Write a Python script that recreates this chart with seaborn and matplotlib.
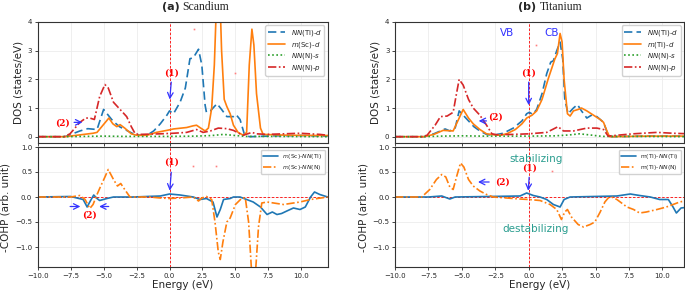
import matplotlib
matplotlib.use("Agg")
import matplotlib.pyplot as plt
import seaborn as sns
import numpy as np

# ---------------- data ----------------
# (a) Scandium, DOS
sc_ti_d_e = [-10, -8, -7.8, -6.8, -6.2, -5.5, -5.0, -4.3, -3.8, -2.75, -2.2, -1.7, -1.2, -0.7, -0.2, 0.0,
             0.3, 0.8, 1.2, 1.55, 1.8, 2.2, 2.45, 2.7, 2.8, 3.1, 3.6, 3.95, 4.35, 4.85, 5.05, 5.35, 5.7,
             6.1, 8, 10, 12]
sc_ti_d = [0, 0, 0.02, 0.2, 0.28, 0.25, 0.95, 0.55, 0.35, 0.1, 0.05, 0.05, 0.2, 0.45, 0.75, 0.9,
           0.8, 1.2, 1.7, 2.72, 2.75, 3.05, 2.5, 1.1, 0.85, 0.9, 1.15, 0.95, 0.7, 0.7, 0.77, 0.6, 0.05,
           0.0, 0.03, 0.04, 0.02]

sc_sc_d_e = [-10, -8, -7.55, -6.5, -5.8, -5.5, -4.6, -4.3, -4.0, -3.75, -3.4, -2.9, -2.5, -1.7, -1.0,
             -0.2, 0.3, 1.3, 1.8, 2.05, 2.3, 2.7, 2.95, 3.2, 3.4, 3.55, 3.7, 3.85, 3.95, 4.15, 4.35, 4.6,
             4.85, 5.2, 5.6, 5.85, 6.05, 6.25, 6.4, 6.6, 6.9, 7.1, 9, 12]
sc_sc_d = [0, 0, 0.02, 0.08, 0.12, 0.15, 0.65, 0.45, 0.35, 0.42, 0.3, 0.1, 0.05, 0.05, 0.15,
           0.22, 0.27, 0.32, 0.38, 0.4, 0.32, 0.2, 0.3, 1.0, 2.5, 4.5, 6.5, 4.5, 3.0, 1.3, 1.05, 0.8,
           0.4, 0.15, 0.05, 0.15, 2.5, 3.75, 3.2, 1.5, 0.3, 0.08, 0.05, 0.04]

sc_n_s_e = [-10, -8, -6.5, -5.0, -3.5, -2.0, 0.0, 2.0, 3.2, 4.1, 5.0, 5.8, 8, 12]
sc_n_s = [0, 0, 0.01, 0.02, 0.01, 0.01, 0.01, 0.02, 0.04, 0.08, 0.04, 0.01, 0.01, 0.0]

sc_n_p_e = [-10, -8, -7.55, -6.8, -6.35, -6.05, -5.7, -5.3, -4.9, -4.65, -4.25, -3.75, -3.25, -2.9,
            -2.6, -2.25, -0.7, 0.3, 1.3, 2.05, 2.55, 3.1, 3.7, 4.35, 4.85, 5.35, 5.6, 6.25, 6.6, 7.4,
            9.9, 11.4, 12]
sc_n_p = [0, 0, 0.1, 0.5, 0.65, 0.65, 0.6, 1.4, 1.82, 1.7, 1.2, 0.95, 0.7, 0.35,
          0.1, 0.08, 0.1, 0.12, 0.15, 0.25, 0.15, 0.2, 0.3, 0.28, 0.22, 0.1, 0.05, 0.15, 0.1, 0.08,
          0.12, 0.08, 0.05]

# (a) Scandium, COHP
sc_cohp_ti_e = [-10, -7.5, -6.55, -6.25, -6.05, -5.75, -5.5, -5.3, -4.75, -4.25, -2.75, -0.7, 0.0, 0.8,
                1.8, 2.3, 2.8, 3.3, 3.6, 3.85, 4.1, 4.6, 4.85, 5.35, 5.85, 6.35, 6.9, 7.4, 7.8, 8.15,
                8.5, 8.9, 9.4, 9.9, 10.3, 10.7, 11.0, 11.4, 12]
sc_cohp_ti = [0, 0.01, -0.05, -0.2, -0.1, 0.04, -0.03, -0.07, -0.03, 0.0, 0.0, 0.02, 0.06, 0.04,
              0.0, -0.05, -0.03, -0.1, -0.4, -0.25, -0.05, -0.03, 0.0, 0.0, -0.05, -0.1, -0.2, -0.35,
              -0.3, -0.35, -0.33, -0.28, -0.22, -0.25, -0.2, 0.0, 0.1, 0.05, 0.0]

sc_cohp_n_e = [-10, -7.5, -6.8, -6.4, -6.05, -5.8, -5.5, -5.25, -4.9, -4.65, -4.25, -3.95, -3.7, -3.4,
               -3.0, -1.5, -0.7, 0.0, 0.8, 1.8, 2.2, 2.45, 2.8, 3.2, 3.45, 3.7, 3.85, 4.05, 4.35, 4.6,
               5.0, 5.5, 5.75, 6.0, 6.25, 6.5, 6.75, 7.0, 7.4, 8.65, 9.9, 10.7, 12]
sc_cohp_n = [0, 0, 0.03, -0.05, -0.23, -0.15, 0.05, 0.2, 0.4, 0.55, 0.35, 0.22, 0.27, 0.15,
             0.0, 0.0, -0.02, -0.03, -0.02, 0.0, -0.08, -0.02, 0.01, -0.05, -0.5, -1.1, -1.25, -0.9,
             -0.5, -0.42, -0.15, -0.02, -0.02, -0.5, -1.6, -1.6, -0.6, -0.12, -0.1, -0.15, -0.1,
             -0.05, 0.0]

# (b) Titanium, DOS
ti_ti_d_e = [-10, -7.8, -7.1, -6.6, -6.25, -5.9, -5.5, -5.2, -4.9, -4.5, -4.1, -3.65, -3.15, -2.65,
             -1.9, -1.15, -0.5, -0.15, 0.05, 0.3, 0.6, 1.0, 1.35, 1.65, 1.85, 2.1, 2.35, 2.55, 2.7,
             2.95, 3.35, 3.65, 3.95, 4.35, 4.7, 5.1, 5.6, 5.95, 6.2, 9, 12]
ti_ti_d = [0, 0, 0.1, 0.2, 0.27, 0.2, 0.3, 0.9, 0.75, 0.55, 0.35, 0.2, 0.08, 0.05,
           0.12, 0.3, 0.55, 0.8, 0.85, 0.78, 0.95, 1.5, 2.2, 2.6, 2.65, 3.0, 3.3, 2.7, 1.3,
           0.8, 1.0, 1.12, 0.9, 0.65, 0.75, 0.7, 0.5, 0.05, 0.0, 0.02, 0.02]

ti_ti_md_e = [-10, -7.8, -7.1, -6.4, -5.65, -5.25, -4.9, -4.5, -4.15, -3.65, -3.15, -2.65, -2.15,
              -1.65, -1.0, -0.5, -0.15, 0.25, 0.6, 1.0, 1.45, 1.95, 2.15, 2.35, 2.5, 2.65, 2.9, 3.1,
              3.35, 3.7, 3.95, 4.35, 4.85, 5.35, 5.6, 5.85, 6.05, 9, 12]
ti_ti_md = [0, 0, 0.08, 0.22, 0.2, 0.6, 0.95, 0.65, 0.45, 0.25, 0.1, 0.07, 0.05,
            0.1, 0.25, 0.45, 0.65, 0.75, 0.9, 1.3, 2.0, 2.7, 2.9, 3.6, 3.3, 2.0, 0.8, 0.72,
            0.9, 0.95, 1.0, 0.9, 0.75, 0.6, 0.5, 0.2, 0.0, 0.02, 0.02]

ti_n_s_e = [-10, -8, -6.5, -5.0, -3.5, -2.0, 0.0, 2.0, 3.0, 3.8, 4.6, 5.5, 8, 12]
ti_n_s = [0, 0, 0.02, 0.03, 0.02, 0.02, 0.02, 0.03, 0.06, 0.1, 0.06, 0.01, 0.01, 0.0]

ti_n_p_e = [-10, -8, -7.6, -7.0, -6.6, -6.1, -5.65, -5.4, -5.2, -4.9, -4.5, -4.15, -3.65, -3.15,
            -2.75, -2.4, -1.15, 0.0, 1.35, 2.2, 2.6, 3.35, 4.35, 5.1, 5.6, 5.95, 6.6, 7.8, 9.6,
            10.8, 12]
ti_n_p = [0, 0, 0.05, 0.4, 0.7, 0.72, 0.85, 1.5, 2.0, 1.8, 1.3, 1.0, 0.75, 0.4,
          0.1, 0.07, 0.08, 0.1, 0.15, 0.35, 0.2, 0.2, 0.3, 0.3, 0.25, 0.02, 0.05, 0.1, 0.15,
          0.12, 0.1]

# (b) Titanium, COHP
ti_cohp_ti_e = [-10, -7.5, -6.5, -5.9, -5.5, -3.0, -0.65, -0.15, 0.35, 0.85, 1.35, 1.85, 2.35, 2.65,
                3.1, 4.85, 6.6, 7.6, 8.3, 9.1, 9.8, 10.45, 10.8, 11.05, 11.4, 12]
ti_cohp_ti = [0, 0.0, 0.02, -0.04, 0.0, 0.01, 0.02, 0.08, 0.03, 0.0, -0.05, -0.15, -0.2, -0.05,
              0.0, 0.01, 0.02, 0.06, 0.03, 0.0, -0.05, -0.05, -0.2, -0.32, -0.22, -0.2]

ti_cohp_n_e = [-10, -8.0, -7.4, -6.9, -6.5, -6.2, -5.9, -5.65, -5.4, -5.1, -4.85, -4.5, -4.15, -3.65,
               -3.15, -2.65, -1.65, -0.65, 0.0, 0.85, 1.6, 2.1, 2.45, 2.7, 2.9, 3.2, 3.7, 4.1, 4.6,
               4.95, 5.35, 5.7, 5.95, 6.2, 6.6, 7.35, 7.85, 8.3, 8.8, 9.6, 10.3, 10.8, 11.3, 12]
ti_cohp_n = [0, 0, 0.15, 0.35, 0.45, 0.4, 0.2, 0.15, 0.4, 0.68, 0.6, 0.35, 0.22, 0.12,
             0.05, 0.0, -0.02, -0.04, -0.05, -0.07, -0.15, -0.25, -0.45, -0.3, -0.25, -0.4, -0.55,
             -0.6, -0.55, -0.5, -0.3, -0.1, -0.02, 0.0, -0.05, -0.2, -0.25, -0.32, -0.3, -0.25,
             -0.2, -0.15, -0.1, -0.06]

# labels
dos_labels_sc = [r"$\it{NN}$(Ti)-$\it{d}$", r"$\it{m}$(Sc)-$\it{d}$",
                 r"$\it{NN}$(N)-$\it{s}$", r"$\it{NN}$(N)-$\it{p}$"]
dos_labels_ti = [r"$\it{NN}$(Ti)-$\it{d}$", r"$\it{m}$(Ti)-$\it{d}$",
                 r"$\it{NN}$(N)-$\it{s}$", r"$\it{NN}$(N)-$\it{p}$"]
cohp_labels_sc = [r"$\it{m}$(Sc)-$\it{NN}$(Ti)", r"$\it{m}$(Sc)-$\it{NN}$(N)"]
cohp_labels_ti = [r"m(Ti)-$\it{NN}$(Ti)", r"m(Ti)-$\it{NN}$(N)"]

# stray red specks seen in the figure
sc_dos_dots = ([1.86, 5.0], [3.75, 2.22])
sc_cohp_dots = ([1.8, 3.5], [0.63, 0.63])
ti_dos_dots = ([0.52], [3.2])
ti_cohp_dots = ([1.72], [0.52])

# ---------------- style ----------------
sns.set_style("ticks")
plt.rcParams["font.family"] = ["DejaVu Sans"]
plt.rcParams["mathtext.fontset"] = "dejavusans"

C_BLUE, C_ORANGE, C_GREEN, C_RED = "#1f77b4", "#ff7f0e", "#2ca02c", "#d62728"
TEAL = "#2a9d8f"
ARROW = dict(arrowstyle="->", color="#3333ff", lw=0.9)

fig = plt.figure(figsize=(6.85, 2.94), dpi=100)
W, H = 685.0, 294.0


def ax_at(x0, x1, y0, y1):
    return fig.add_axes([x0 / W, 1 - y1 / H, (x1 - x0) / W, (y1 - y0) / H])


def style(ax, xmax):
    ax.set_xlim(-10, xmax)
    ax.grid(True, color="#ececec", lw=0.6)
    ax.set_axisbelow(True)
    ax.tick_params(labelsize=5, length=2.5, width=0.6, pad=1.5)
    for s in ax.spines.values():
        s.set_linewidth(0.8)
        s.set_color("#333333")
    ax.axvline(0, color="red", lw=0.6, ls=(0, (3, 2)), zorder=1)


def line(ax, e, v, color, ls, label):
    sns.lineplot(x=e, y=v, ax=ax, color=color, linestyle=ls, lw=1.2,
                 label=label, estimator=None, sort=False)


def num(ax, txt, x, y):
    ax.text(x, y, txt, color="red", fontsize=6.5, ha="center", va="center",
            fontweight="bold", family="DejaVu Serif")


def panel(x0, x1, xmax, title_a, title_b, dos, dos_lab, cohp, cohp_lab, dots_d, dots_c):
    top = ax_at(x0, x1, 22, 143)
    bot = ax_at(x0, x1, 147, 267)
    style(top, xmax)
    style(bot, xmax)
    cols = [C_BLUE, C_ORANGE, C_GREEN, C_RED]
    lss = [(0, (5, 2.5)), "-", (0, (1, 1.5)), (0, (5, 1.5, 1, 1.5))]
    for (e, v), c, ls, lab in zip(dos, cols, lss, dos_lab):
        line(top, e, v, c, ls, lab)
    top.set_ylim(-0.22, 4)
    top.set_yticks([0, 1, 2, 3, 4])
    top.set_ylabel("DOS (states/eV)", fontsize=7.5, labelpad=3)
    top.legend(loc="upper right", fontsize=5, handlelength=2.5, borderpad=0.35,
               labelspacing=0.25, frameon=True, fancybox=True, framealpha=0.9)
    for (e, v), c, ls, lab in zip(cohp, [C_BLUE, C_ORANGE], ["-", (0, (5, 1.5, 1, 1.5))], cohp_lab):
        line(bot, e, v, c, ls, lab)
    bot.axhline(0, color="red", lw=0.6, ls=(0, (3, 2)), zorder=1)
    bot.set_ylim(-1.4, 1.0)
    bot.set_yticks([1.0, 0.5, 0.0, -0.5, -1.0])
    bot.set_xticks([-10, -7.5, -5, -2.5, 0, 2.5, 5, 7.5, 10])
    bot.set_xticklabels(["\u221210.0", "\u22127.5", "\u22125.0", "\u22122.5", "0.0",
                         "2.5", "5.0", "7.5", "10.0"])
    top.set_xticks([-10, -7.5, -5, -2.5, 0, 2.5, 5, 7.5, 10])
    top.set_xticklabels([])
    bot.set_ylabel("-COHP (arb. unit)", fontsize=7.5, labelpad=3)
    bot.set_xlabel("Energy (eV)", fontsize=7.5, labelpad=1)
    bot.legend(loc="upper right", fontsize=4.3, handlelength=2.5, borderpad=0.35,
               labelspacing=0.3, frameon=True, fancybox=True, framealpha=0.9)
    top.plot(dots_d[0], dots_d[1], "s", color="#ff8080", ms=1.2, mew=0)
    bot.plot(dots_c[0], dots_c[1], "s", color="#ff8080", ms=1.2, mew=0)
    cx = (x0 + x1) / 2 / W
    fig.text(cx - 0.005, 1 - 7 / H, title_a, fontsize=8, fontweight="bold",
             ha="right", va="center")
    fig.text(cx - 0.0, 1 - 7 / H, title_b, fontsize=8.5, family="Liberation Serif",
             ha="left", va="center")
    return top, bot


sc_top, sc_bot = panel(37.7, 327.7, 12, "(a)", "Scandium",
                       [(sc_ti_d_e, sc_ti_d), (sc_sc_d_e, sc_sc_d), (sc_n_s_e, sc_n_s), (sc_n_p_e, sc_n_p)],
                       dos_labels_sc,
                       [(sc_cohp_ti_e, sc_cohp_ti), (sc_cohp_n_e, sc_cohp_n)], cohp_labels_sc,
                       sc_dos_dots, sc_cohp_dots)
ti_top, ti_bot = panel(395, 684, 11.62, "(b)", "Titanium",
                       [(ti_ti_d_e, ti_ti_d), (ti_ti_md_e, ti_ti_md), (ti_n_s_e, ti_n_s), (ti_n_p_e, ti_n_p)],
                       dos_labels_ti,
                       [(ti_cohp_ti_e, ti_cohp_ti), (ti_cohp_n_e, ti_cohp_n)], cohp_labels_ti,
                       ti_dos_dots, ti_cohp_dots)

# annotations (a)
num(sc_top, "(1)", 0.15, 2.22)
sc_top.annotate("", xy=(0.0, 1.2), xytext=(0.15, 2.0), arrowprops=ARROW)
num(sc_top, "(2)", -8.1, 0.49)
sc_top.annotate("", xy=(-6.4, 0.5), xytext=(-7.45, 0.5), arrowprops=ARROW)
num(sc_bot, "(1)", 0.15, 0.69)
sc_bot.annotate("", xy=(0.0, 0.07), xytext=(0.15, 0.55), arrowprops=ARROW)
num(sc_bot, "(2)", -6.1, -0.36)
sc_bot.annotate("", xy=(-6.55, -0.19), xytext=(-7.75, -0.19), arrowprops=ARROW)
sc_bot.annotate("", xy=(-5.55, -0.19), xytext=(-4.4, -0.19), arrowprops=ARROW)

# annotations (b)
ti_top.text(-1.65, 3.62, "VB", color="#3333ff", fontsize=7.5, ha="center", va="center")
ti_top.text(1.7, 3.62, "CB", color="#3333ff", fontsize=7.5, ha="center", va="center")
num(ti_top, "(1)", 0.0, 2.22)
ti_top.annotate("", xy=(0.0, 1.0), xytext=(0.0, 2.0), arrowprops=ARROW)
num(ti_top, "(2)", -2.45, 0.69)
ti_top.annotate("", xy=(-3.95, 0.55), xytext=(-2.95, 0.55), arrowprops=ARROW)
ti_bot.text(0.55, 0.77, "stabilizing", color=TEAL, fontsize=7.5, ha="center", va="center")
ti_bot.text(0.55, -0.63, "destabilizing", color=TEAL, fontsize=7.5, ha="center", va="center")
num(ti_bot, "(1)", 0.05, 0.58)
ti_bot.annotate("", xy=(-0.05, 0.07), xytext=(0.05, 0.45), arrowprops=ARROW)
num(ti_bot, "(2)", -1.97, 0.3)
ti_bot.annotate("", xy=(-4.0, 0.3), xytext=(-2.75, 0.3), arrowprops=ARROW)

fig.savefig("out.png", dpi=100)
